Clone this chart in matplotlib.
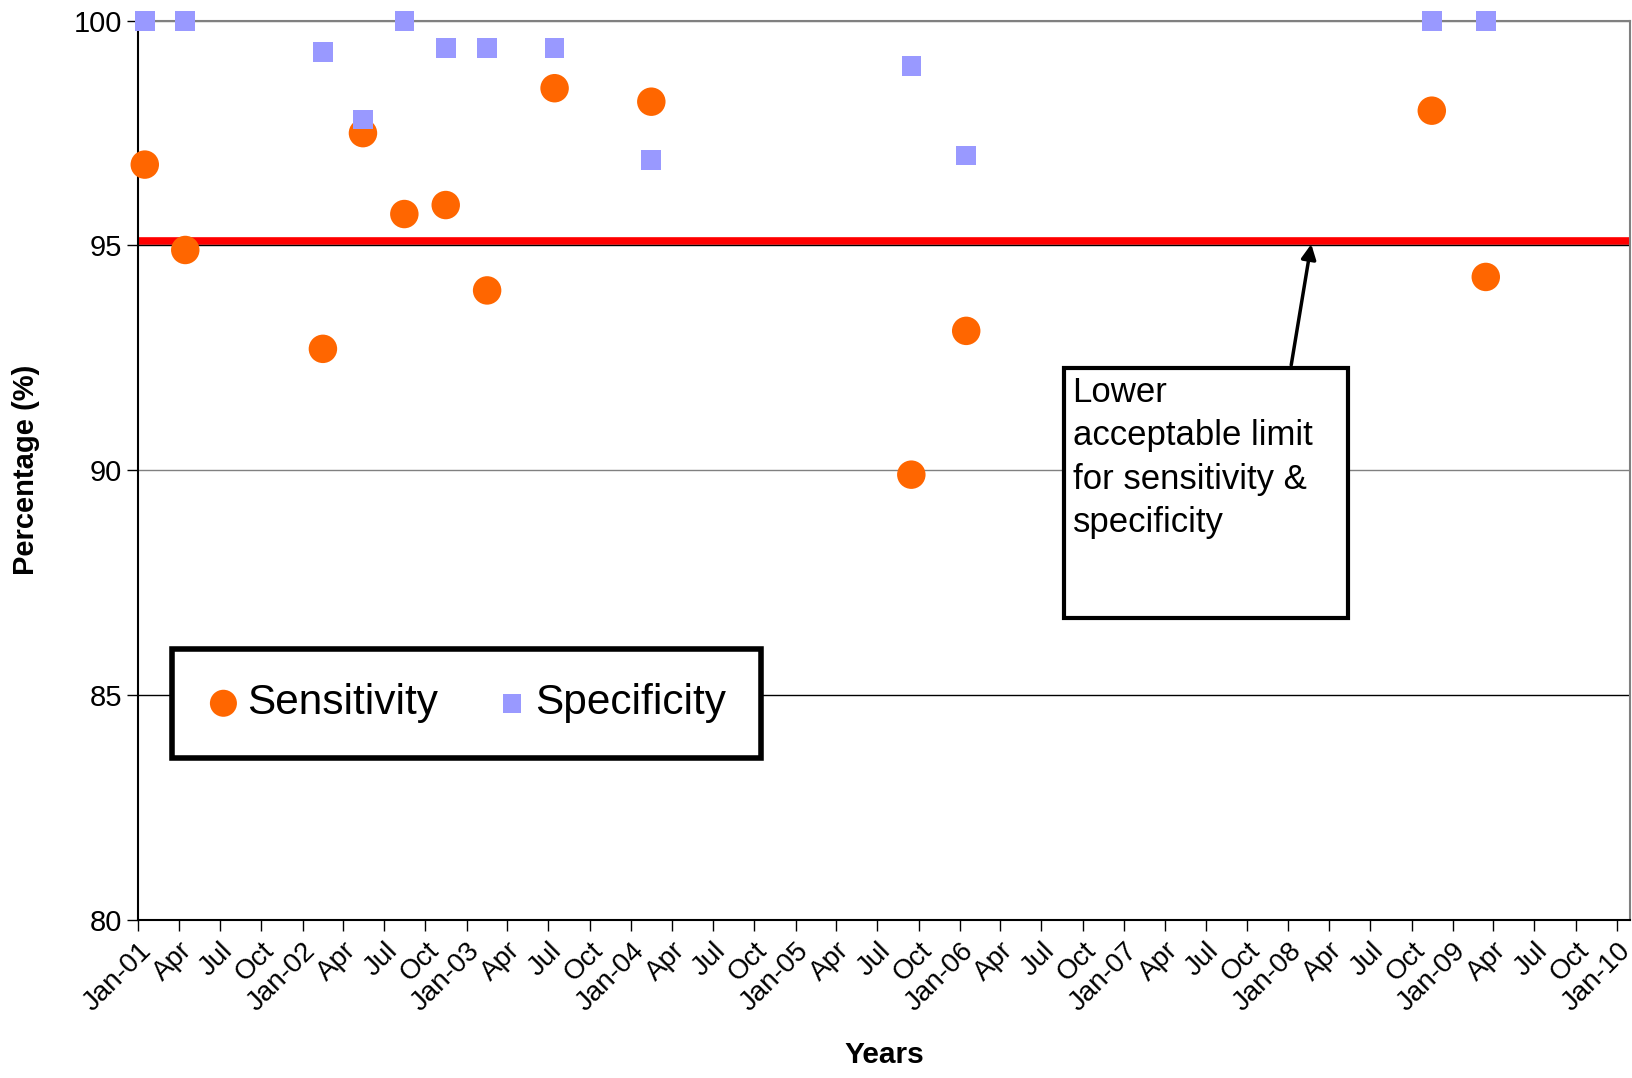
import datetime as dt
import matplotlib
matplotlib.use("Agg")
import matplotlib.pyplot as plt
import matplotlib.dates as mdates
from matplotlib.patches import Rectangle
from matplotlib.ticker import FuncFormatter

# Data
dates = [
    dt.date(2001, 1, 15), dt.date(2001, 4, 15), dt.date(2002, 2, 15),
    dt.date(2002, 5, 15), dt.date(2002, 8, 15), dt.date(2002, 11, 15),
    dt.date(2003, 2, 15), dt.date(2003, 7, 15), dt.date(2004, 2, 15),
    dt.date(2005, 9, 15), dt.date(2006, 1, 15), dt.date(2008, 11, 15),
    dt.date(2009, 3, 15),
]
sensitivity = [96.8, 94.9, 92.7, 97.5, 95.7, 95.9, 94.0, 98.5, 98.2, 89.9, 93.1, 98.0, 94.3]
specificity = [100, 100, 99.3, 97.8, 100, 99.4, 99.4, 99.4, 96.9, 99.0, 97.0, 100, 100]
lower_limit = 95.1
y_ticks = [80, 85, 90, 95, 100]

plt.rcParams["font.family"] = ["Liberation Sans", "DejaVu Sans"]

fig = plt.figure(figsize=(16.33, 10.78), dpi=100)
ax = fig.add_axes([0.0848, 0.147, 0.9132, 0.8337])

# Lower acceptable limit (drawn under the 95 gridline)
ax.axhline(lower_limit, color="#FF0000", lw=5.5, zorder=1)

# Gridlines
for yv in y_ticks[1:]:
    ax.axhline(yv, color="#000000" if yv in (85, 95) else "#808080", lw=1.0, zorder=2)

ax.scatter(dates, sensitivity, s=420, color="#FF6600", marker="o",
           edgecolors="none", label="Sensitivity", zorder=3, clip_on=False)
ax.scatter(dates, specificity, s=200, color="#9999FF", marker="s",
           edgecolors="none", label="Specificity", zorder=4, clip_on=False)

ax.set_xlim(dt.date(2001, 1, 1), dt.date(2010, 1, 29))
ax.set_ylim(80, 100)
ax.set_yticks(y_ticks)

ax.xaxis.set_major_locator(mdates.MonthLocator(bymonth=[1, 4, 7, 10]))


def fmt(x, pos):
    d = mdates.num2date(x)
    if d.month == 1:
        return d.strftime("%b-%y")
    return d.strftime("%b")


ax.xaxis.set_major_formatter(FuncFormatter(fmt))
for lbl in ax.get_xticklabels():
    lbl.set_rotation(45)
    lbl.set_ha("right")
    lbl.set_rotation_mode("anchor")

ax.tick_params(axis="x", length=8, width=1, labelsize=20, pad=5)
ax.tick_params(axis="y", length=8, width=1, labelsize=21, pad=4)

for side in ["top", "right"]:
    ax.spines[side].set_color("#808080")
for side in ["left", "bottom"]:
    ax.spines[side].set_color("#000000")
for sp in ax.spines.values():
    sp.set_linewidth(1.5)

ax.set_xlabel("Years", fontsize=21.5, fontweight="bold", labelpad=18)
ax.set_ylabel("Percentage (%)", fontsize=21, fontweight="bold", labelpad=24)

# Legend
leg = ax.legend(loc="lower left", bbox_to_anchor=(0.0223, 0.1796), ncol=2,
                fontsize=30.5, frameon=True, fancybox=False, framealpha=1,
                borderaxespad=0, borderpad=0.82, handletextpad=0.15,
                columnspacing=1.35, handlelength=0.8, markerscale=0.95)
leg.get_frame().set_edgecolor("#000000")
leg.get_frame().set_linewidth(4)
leg.set_zorder(6)

# Annotation box
box = Rectangle((0.6208, 0.336), 0.19, 0.278, transform=ax.transAxes,
                facecolor="white", edgecolor="#000000", lw=3, zorder=6)
ax.add_patch(box)
ax.text(0.6264, 0.6047, "Lower\nacceptable limit\nfor sensitivity &\nspecificity",
        transform=ax.transAxes, fontsize=25, va="top", ha="left",
        linespacing=1.4, zorder=7)
ax.annotate("", xy=(mdates.date2num(dt.date(2008, 2, 21)), 95.03),
            xytext=(0.773, 0.617), textcoords="axes fraction",
            arrowprops=dict(arrowstyle="-|>", color="#000000", lw=2.5,
                            mutation_scale=22, shrinkA=0, shrinkB=0),
            zorder=7)

fig.savefig("out.png", dpi=100, facecolor="white")
